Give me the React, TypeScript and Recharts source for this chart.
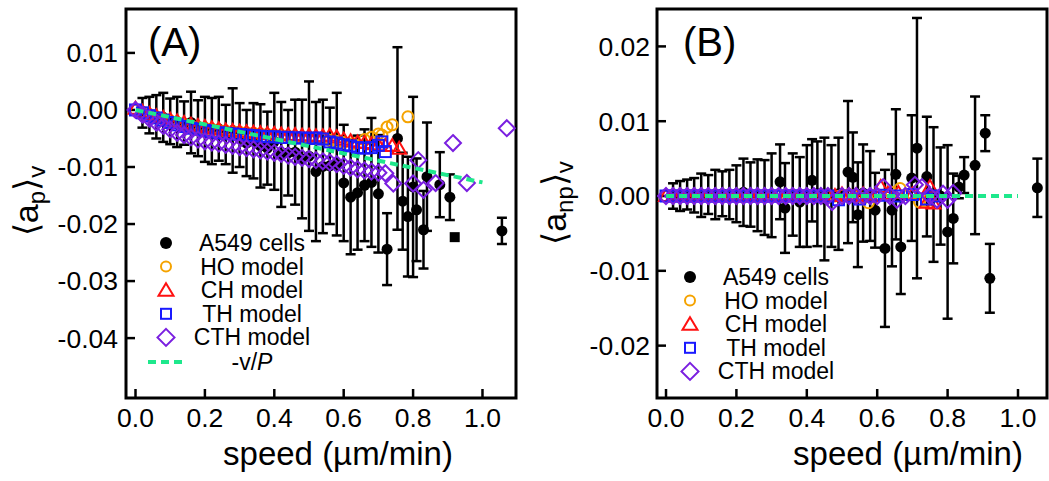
import { ErrorBar, ReferenceArea, Scatter, ScatterChart, XAxis, YAxis } from 'recharts'

const FONT = '"Liberation Sans", Arial, Helvetica, sans-serif'
const ORANGE = '#f5a300'
const RED = '#ff1010'
const BLUE = '#1a1aff'
const PURPLE = '#7a1fe0'
const GREEN = '#1ee88c'

// speed, mean, error
const cellsA: [number, number, number][] = [
  [0.02, -0.0005, 0.0026], [0.04, -0.0009, 0.0032], [0.06, -0.0012, 0.0038],
  [0.08, -0.0013, 0.0043], [0.1, -0.002, 0.004], [0.12, -0.0021, 0.0044],
  [0.14, -0.0023, 0.0038], [0.16, -0.0022, 0.0054], [0.18, -0.0032, 0.0049],
  [0.2, -0.0034, 0.0057], [0.22, -0.0037, 0.0058], [0.24, -0.0033, 0.0056],
  [0.26, -0.0043, 0.0052], [0.28, -0.0036, 0.0074], [0.3, -0.0044, 0.0056],
  [0.32, -0.0058, 0.0058], [0.34, -0.0054, 0.0066], [0.36, -0.0063, 0.0073],
  [0.38, -0.0067, 0.0064], [0.4, -0.0055, 0.0085], [0.42, -0.0078, 0.0092],
  [0.44, -0.0075, 0.0075], [0.46, -0.0074, 0.0092], [0.48, -0.0086, 0.0104],
  [0.5, -0.0081, 0.0131], [0.52, -0.0108, 0.0122], [0.54, -0.0099, 0.0117],
  [0.56, -0.0098, 0.0102], [0.58, -0.0095, 0.0125], [0.6, -0.0128, 0.0102],
  [0.62, -0.0153, 0.01], [0.64, -0.0145, 0.01], [0.66, -0.0132, 0.0098],
  [0.68, -0.0127, 0.0113], [0.7, -0.0147, 0.0103], [0.725, -0.0244, 0.0063],
  [0.755, -0.005, 0.016], [0.77, -0.016, 0.0085], [0.785, -0.0187, 0.0105],
  [0.8, -0.0135, 0.0158], [0.81, -0.0175, 0.009], [0.83, -0.021, 0.0068],
  [0.84, -0.0117, 0.0095], [0.877, -0.0131, 0.0057], [0.906, -0.0153, 0.004],
  [1.056, -0.0212, 0.0023],
]
const cellsAExtra: [number, number][] = [[0.92, -0.0223]]

const hoA: [number, number][] = [
  [0, 0], [0.02, -0.0004], [0.04, -0.0008], [0.06, -0.0012], [0.08, -0.0016],
  [0.1, -0.0019], [0.12, -0.0022], [0.14, -0.0025], [0.16, -0.0028], [0.18, -0.003],
  [0.2, -0.0032], [0.22, -0.0034], [0.24, -0.0036], [0.26, -0.0037], [0.28, -0.0038],
  [0.3, -0.0039], [0.32, -0.004], [0.34, -0.0041], [0.36, -0.0042], [0.38, -0.0043],
  [0.4, -0.0044], [0.42, -0.0045], [0.44, -0.0046], [0.46, -0.0047], [0.48, -0.0048],
  [0.5, -0.0049], [0.52, -0.005], [0.54, -0.0051], [0.56, -0.0053], [0.58, -0.0055],
  [0.6, -0.0057], [0.627, -0.0059], [0.66, -0.0052], [0.68, -0.0048], [0.7, -0.0042],
  [0.71, -0.0044], [0.725, -0.003], [0.74, -0.0026], [0.785, -0.0012],
]
const chA: [number, number][] = [
  [0, 0.0002], [0.02, -0.0003], [0.04, -0.0007], [0.06, -0.0011], [0.08, -0.0014],
  [0.1, -0.0017], [0.12, -0.002], [0.14, -0.0023], [0.16, -0.0026], [0.18, -0.0028],
  [0.2, -0.003], [0.22, -0.0032], [0.24, -0.0034], [0.26, -0.0036], [0.28, -0.0037],
  [0.3, -0.0038], [0.32, -0.0039], [0.34, -0.004], [0.36, -0.0041], [0.38, -0.0042],
  [0.4, -0.0042], [0.42, -0.0043], [0.44, -0.0044], [0.46, -0.0044], [0.48, -0.0045],
  [0.5, -0.0045], [0.52, -0.0046], [0.54, -0.0046], [0.56, -0.0045], [0.58, -0.0048],
  [0.6, -0.0052], [0.62, -0.0055], [0.64, -0.0057], [0.66, -0.0058], [0.68, -0.006],
  [0.7, -0.0062], [0.72, -0.0063], [0.74, -0.0063], [0.76, -0.0068],
]
const thA: [number, number][] = [
  [0, 0], [0.02, -0.0005], [0.04, -0.001], [0.06, -0.0014], [0.08, -0.0018],
  [0.1, -0.0022], [0.12, -0.0026], [0.14, -0.0029], [0.16, -0.0032], [0.18, -0.0034],
  [0.2, -0.0036], [0.22, -0.0038], [0.24, -0.004], [0.26, -0.0041], [0.28, -0.0042],
  [0.3, -0.0043], [0.32, -0.0044], [0.34, -0.0045], [0.36, -0.0046], [0.38, -0.0047],
  [0.4, -0.0047], [0.42, -0.0048], [0.44, -0.0048], [0.46, -0.0049], [0.48, -0.0049],
  [0.5, -0.005], [0.52, -0.0049], [0.54, -0.0051], [0.56, -0.0056], [0.58, -0.0058],
  [0.6, -0.0061], [0.62, -0.0063], [0.64, -0.0066], [0.66, -0.0067], [0.68, -0.0066],
  [0.7, -0.0062], [0.71, -0.0056], [0.72, -0.0073],
]
const cthA: [number, number][] = [
  [0, 0], [0.02, -0.0008], [0.04, -0.0015], [0.06, -0.0022], [0.08, -0.0028],
  [0.1, -0.0034], [0.12, -0.004], [0.14, -0.0044], [0.16, -0.0048], [0.18, -0.0052],
  [0.2, -0.0055], [0.22, -0.0057], [0.24, -0.0059], [0.26, -0.0061], [0.28, -0.0063],
  [0.3, -0.0065], [0.32, -0.0067], [0.34, -0.0069], [0.36, -0.0071], [0.38, -0.0073],
  [0.4, -0.0075], [0.42, -0.0077], [0.44, -0.008], [0.46, -0.0082], [0.48, -0.0084],
  [0.5, -0.0086], [0.52, -0.0088], [0.54, -0.009], [0.56, -0.0092], [0.58, -0.0095],
  [0.6, -0.0098], [0.62, -0.0101], [0.64, -0.0104], [0.66, -0.0106], [0.68, -0.0108],
  [0.7, -0.011], [0.72, -0.0111], [0.743, -0.0129], [0.8, -0.0129], [0.815, -0.0088],
  [0.83, -0.014], [0.865, -0.0128], [0.915, -0.0058], [0.955, -0.0128], [1.07, -0.0032],
]
const vOverPA: [number, number][] = [[0, 0], [1.0, -0.0127]]

const cellsB: [number, number, number][] = [
  [0.02, 0, 0.0017], [0.04, 0, 0.002], [0.06, 0.0002, 0.002], [0.08, 0.0001, 0.0023],
  [0.1, 0.0001, 0.0029], [0.12, 0.0002, 0.0026], [0.14, 0.0002, 0.0033],
  [0.16, 0.0003, 0.003], [0.18, 0.0002, 0.0033], [0.2, 0.0003, 0.0038],
  [0.22, 0.0005, 0.0045], [0.24, 0.0002, 0.0043], [0.26, 0.0001, 0.0048],
  [0.28, -0.0002, 0.005], [0.3, 0.0001, 0.0056], [0.324, 0.0019, 0.005],
  [0.338, -0.0016, 0.006], [0.36, 0.0002, 0.0055], [0.38, -0.0008, 0.006],
  [0.4, 0, 0.0068], [0.415, 0.0021, 0.0055], [0.43, 0.0003, 0.007],
  [0.45, -0.0004, 0.0082], [0.47, 0, 0.0068], [0.49, 0.0003, 0.0075],
  [0.517, 0.0032, 0.0095], [0.531, 0.0025, 0.006], [0.545, -0.0025, 0.007],
  [0.56, 0.0004, 0.0065], [0.58, 0, 0.006], [0.594, -0.0019, 0.005],
  [0.622, -0.007, 0.0105], [0.642, -0.0019, 0.0075], [0.653, 0.0029, 0.0087],
  [0.667, -0.0068, 0.0063], [0.698, 0.0024, 0.0084], [0.713, 0.0064, 0.0174],
  [0.741, 0.0026, 0.008], [0.76, 0.0002, 0.009], [0.78, 0, 0.0065],
  [0.8, -0.0048, 0.0116], [0.816, -0.003, 0.006], [0.832, 0.0012, 0.0015],
  [0.847, 0.0028, 0.0024], [0.878, 0.0041, 0.0092], [0.907, 0.0084, 0.0024],
  [0.92, -0.011, 0.0046], [1.055, 0.0011, 0.0039],
]
const hoB: [number, number][] = [
  [0, 0], [0.02, 0], [0.04, 0], [0.06, 0], [0.08, 0], [0.1, 0], [0.12, 0], [0.14, 0],
  [0.16, 0], [0.18, 0], [0.2, 0], [0.22, 0], [0.24, 0], [0.26, 0], [0.28, 0], [0.3, 0],
  [0.32, 0], [0.34, 0], [0.36, 0], [0.38, 0], [0.4, 0], [0.42, 0], [0.44, 0], [0.46, 0],
  [0.48, 0], [0.5, 0.0001], [0.52, 0.0002], [0.54, -0.0001], [0.56, -0.0003],
  [0.575, -0.0009], [0.6, 0.0002], [0.64, 0.0005], [0.665, 0.001], [0.7, 0.0003],
  [0.72, -0.0008], [0.74, -0.0007],
]
const chB: [number, number][] = [
  [0, 0], [0.02, 0], [0.04, 0], [0.06, 0], [0.08, 0], [0.1, 0], [0.12, 0], [0.14, 0],
  [0.16, 0], [0.18, 0], [0.2, 0], [0.22, 0], [0.24, 0], [0.26, 0], [0.28, 0], [0.3, 0],
  [0.32, 0], [0.34, 0], [0.36, 0], [0.38, 0], [0.4, 0], [0.42, 0], [0.44, 0], [0.46, 0],
  [0.48, 0], [0.5, 0.0002], [0.52, 0], [0.54, 0.0001], [0.56, 0.0002], [0.58, 0],
  [0.61, 0.0012], [0.63, 0.0003], [0.66, 0.0004], [0.7, 0.0002], [0.74, -0.0009],
  [0.75, 0.0012], [0.76, -0.001],
]
const thB: [number, number][] = [
  [0, 0], [0.02, 0], [0.04, 0], [0.06, 0], [0.08, 0], [0.1, 0], [0.12, 0], [0.14, 0],
  [0.16, 0], [0.18, 0], [0.2, 0], [0.22, 0], [0.24, 0], [0.26, 0], [0.28, 0], [0.3, 0],
  [0.32, 0], [0.34, 0], [0.36, 0], [0.38, 0], [0.4, 0], [0.42, 0], [0.44, 0], [0.46, 0],
  [0.49, -0.0005], [0.52, 0], [0.55, -0.0004], [0.58, 0], [0.62, 0.0001], [0.66, 0],
  [0.7, 0.0002], [0.74, -0.0004], [0.76, 0],
]
const cthB: [number, number][] = [
  [0, 0], [0.02, 0], [0.04, 0], [0.06, 0], [0.08, 0], [0.1, 0], [0.12, 0], [0.14, 0],
  [0.16, 0], [0.18, 0], [0.2, 0], [0.22, 0], [0.24, 0], [0.26, 0], [0.28, 0], [0.3, 0],
  [0.32, 0], [0.34, 0], [0.36, 0], [0.38, 0], [0.4, 0], [0.42, 0], [0.44, 0], [0.46, 0],
  [0.472, -0.0008], [0.5, 0], [0.52, 0], [0.54, 0], [0.56, 0], [0.58, 0], [0.6, 0],
  [0.617, 0.0012], [0.636, 0], [0.656, -0.0005], [0.68, 0], [0.707, 0.0015],
  [0.727, 0.0012], [0.75, 0], [0.77, -0.0005], [0.787, 0.0003], [0.8, -0.0005],
  [0.816, 0.0004],
]
const vOverPB: [number, number][] = [[0, 0], [1.0, 0]]

const speedTicks = [0, 0.2, 0.4, 0.6, 0.8, 1.0]
const ticksA = [-0.04, -0.03, -0.02, -0.01, 0, 0.01]
const ticksB = [-0.02, -0.01, 0, 0.01, 0.02]

const withErr = (rows: [number, number, number][]) => rows.map(([v, a, err]) => ({ v, a, err }))
const model = (rows: [number, number][]) => rows.map(([v, a]) => ({ v, a, e: 0 }))

const Dot = (p: any) => <circle cx={p.cx} cy={p.cy} r={5.5} fill="#000" />
const BlockSq = (p: any) => <rect x={p.cx - 5} y={p.cy - 5} width={10} height={10} fill="#000" />
const Ring = (p: any) => (
  <circle cx={p.cx} cy={p.cy} r={5.5} fill="none" stroke={ORANGE} strokeWidth={2} />
)
const Tri = (p: any) => (
  <polygon
    points={`${p.cx},${p.cy - 7} ${p.cx + 7},${p.cy + 5} ${p.cx - 7},${p.cy + 5}`}
    fill="none"
    stroke={RED}
    strokeWidth={2}
  />
)
const Sq = (p: any) => (
  <rect x={p.cx - 5.5} y={p.cy - 5.5} width={11} height={11} fill="none" stroke={BLUE} strokeWidth={2} />
)
const Dia = (p: any) => (
  <polygon
    points={`${p.cx},${p.cy - 8} ${p.cx + 8},${p.cy} ${p.cx},${p.cy + 8} ${p.cx - 8},${p.cy}`}
    fill="none"
    stroke={PURPLE}
    strokeWidth={2}
  />
)
const Nothing = () => <g />

type PanelProps = {
  left: number
  width: number
  yAxisWidth: number
  right: number
  yMargin: number
  xDomain: [number, number]
  yDomain: [number, number]
  yTicks: number[]
  cells: [number, number, number][]
  extra: [number, number][]
  ho: [number, number][]
  ch: [number, number][]
  th: [number, number][]
  cth: [number, number][]
  line: [number, number][]
}

function Panel(p: PanelProps) {
  const tick = { fontSize: 26.5, fill: '#000', fontFamily: FONT }
  const tickLine = { stroke: '#000', strokeWidth: 2.5 }
  return (
    <div style={{ position: 'absolute', left: p.left, top: 0 }}>
      <ScatterChart
        width={p.width}
        height={481}
        margin={{ top: 9, right: p.right, bottom: 0, left: 0 }}
      >
        <XAxis
          type="number"
          dataKey="v"
          domain={p.xDomain}
          ticks={speedTicks}
          interval={0}
          allowDataOverflow
          tickFormatter={(t: number) => t.toFixed(1)}
          height={83}
          axisLine={false}
          tickLine={tickLine}
          tickSize={-9}
          tickMargin={19}
          tick={tick}
        />
        <YAxis
          type="number"
          dataKey="a"
          domain={p.yDomain}
          ticks={p.yTicks}
          interval={0}
          allowDataOverflow
          tickFormatter={(t: number) => t.toFixed(2)}
          width={p.yAxisWidth}
          axisLine={false}
          tickLine={tickLine}
          tickSize={-9}
          tickMargin={p.yMargin}
          tick={tick}
        />
        <ReferenceArea
          x1={p.xDomain[0]}
          x2={p.xDomain[1]}
          y1={p.yDomain[0]}
          y2={p.yDomain[1]}
          fill="none"
          fillOpacity={0}
          stroke="#000"
          strokeWidth={3}
          ifOverflow="visible"
        />
        <Scatter data={withErr(p.cells)} shape={Dot} fill="#000" isAnimationActive={false}>
          <ErrorBar dataKey="err" direction="y" width={5} stroke="#000" strokeWidth={2.5} />
        </Scatter>
        <Scatter data={model(p.extra)} shape={BlockSq} fill="#000" isAnimationActive={false} />
        <Scatter data={model(p.ho)} shape={Ring} fill={ORANGE} isAnimationActive={false}>
          <ErrorBar dataKey="e" direction="y" width={4.5} stroke={ORANGE} strokeWidth={2} />
        </Scatter>
        <Scatter data={model(p.ch)} shape={Tri} fill={RED} isAnimationActive={false}>
          <ErrorBar dataKey="e" direction="y" width={4.5} stroke={RED} strokeWidth={2} />
        </Scatter>
        <Scatter data={model(p.th)} shape={Sq} fill={BLUE} isAnimationActive={false}>
          <ErrorBar dataKey="e" direction="y" width={4.5} stroke={BLUE} strokeWidth={2} />
        </Scatter>
        <Scatter data={model(p.cth)} shape={Dia} fill={PURPLE} isAnimationActive={false}>
          <ErrorBar dataKey="e" direction="y" width={5} stroke={PURPLE} strokeWidth={2} />
        </Scatter>
        <Scatter
          data={model(p.line)}
          shape={Nothing}
          fill={GREEN}
          line={{ stroke: GREEN, strokeWidth: 4, strokeDasharray: '8 5' }}
          isAnimationActive={false}
        />
      </ScatterChart>
    </div>
  )
}

const legendRows = ['A549 cells', 'HO model', 'CH model', 'TH model', 'CTH model']

function LegendMarker({ i, x, y }: { i: number; x: number; y: number }) {
  if (i === 0) return <circle cx={x} cy={y} r={6} fill="#000" />
  if (i === 1) return <circle cx={x} cy={y} r={5} fill="none" stroke={ORANGE} strokeWidth={2} />
  if (i === 2)
    return (
      <polygon
        points={`${x},${y - 7} ${x + 7.5},${y + 5.5} ${x - 7.5},${y + 5.5}`}
        fill="none"
        stroke={RED}
        strokeWidth={2}
      />
    )
  if (i === 3)
    return <rect x={x - 5} y={y - 5} width={10} height={10} fill="none" stroke={BLUE} strokeWidth={2} />
  return (
    <polygon
      points={`${x},${y - 8.5} ${x + 8.5},${y} ${x},${y + 8.5} ${x - 8.5},${y}`}
      fill="none"
      stroke={PURPLE}
      strokeWidth={2}
    />
  )
}

function LegendBlock({ mx, tx, y0, withLine }: { mx: number; tx: number; y0: number; withLine: boolean }) {
  const step = 23.6
  return (
    <g fontFamily={FONT} fontSize={23}>
      {legendRows.map((label, i) => (
        <g key={label}>
          <LegendMarker i={i} x={mx} y={y0 + i * step} />
          <text x={tx} y={y0 + i * step + 8} textAnchor="middle">
            {label}
          </text>
        </g>
      ))}
      {withLine && (
        <g>
          <line
            x1={mx - 18}
            x2={mx + 18}
            y1={y0 + 5 * step + 1}
            y2={y0 + 5 * step + 1}
            stroke={GREEN}
            strokeWidth={4}
            strokeDasharray="8 5"
          />
          <text x={tx} y={y0 + 5 * step + 9} textAnchor="middle">
            -v/<tspan fontStyle="italic">P</tspan>
          </text>
        </g>
      )}
    </g>
  )
}

function YTitle({ x, y, sub }: { x: number; y: number; sub: string }) {
  return (
    <text
      transform={`translate(${x},${y}) rotate(-90)`}
      textAnchor="middle"
      fontSize={34}
      fontFamily={FONT}
    >
      <tspan>⟨a</tspan>
      <tspan fontSize={24} dy={7}>
        {sub}
      </tspan>
      <tspan dy={-7}>⟩</tspan>
      <tspan fontSize={24} dy={7}>
        v
      </tspan>
    </text>
  )
}

export default function App() {
  return (
    <div
      style={{
        position: 'absolute',
        left: 0,
        top: 0,
        width: 1049,
        height: 481,
        background: '#fff',
        overflow: 'hidden',
      }}
    >
      <Panel
        left={0}
        width={530}
        yAxisWidth={126}
        right={14}
        yMargin={17}
        xDomain={[-0.0274, 1.0966]}
        yDomain={[-0.0505, 0.0177]}
        yTicks={ticksA}
        cells={cellsA}
        extra={cellsAExtra}
        ho={hoA}
        ch={chA}
        th={thA}
        cth={cthA}
        line={vOverPA}
      />
      <Panel
        left={530}
        width={519}
        yAxisWidth={127}
        right={2}
        yMargin={16}
        xDomain={[-0.0256, 1.0824]}
        yDomain={[-0.027, 0.025]}
        yTicks={ticksB}
        cells={cellsB}
        extra={[]}
        ho={hoB}
        ch={chB}
        th={thB}
        cth={cthB}
        line={vOverPB}
      />
      <svg
        width={1049}
        height={481}
        style={{ position: 'absolute', left: 0, top: 0, pointerEvents: 'none' }}
      >
        <text x={148} y={56} fontSize={40} fontFamily={FONT}>
          (A)
        </text>
        <text x={683} y={56} fontSize={40} fontFamily={FONT}>
          (B)
        </text>
        <text x={338} y={465} fontSize={33} fontFamily={FONT} textAnchor="middle">
          speed (µm/min)
        </text>
        <text x={908} y={465} fontSize={33} fontFamily={FONT} textAnchor="middle">
          speed (µm/min)
        </text>
        <YTitle x={38} y={201} sub="p" />
        <YTitle x={566} y={203} sub="np" />
        <LegendBlock mx={166} tx={252} y0={243} withLine />
        <LegendBlock mx={690} tx={776} y0={277} withLine={false} />
      </svg>
    </div>
  )
}
